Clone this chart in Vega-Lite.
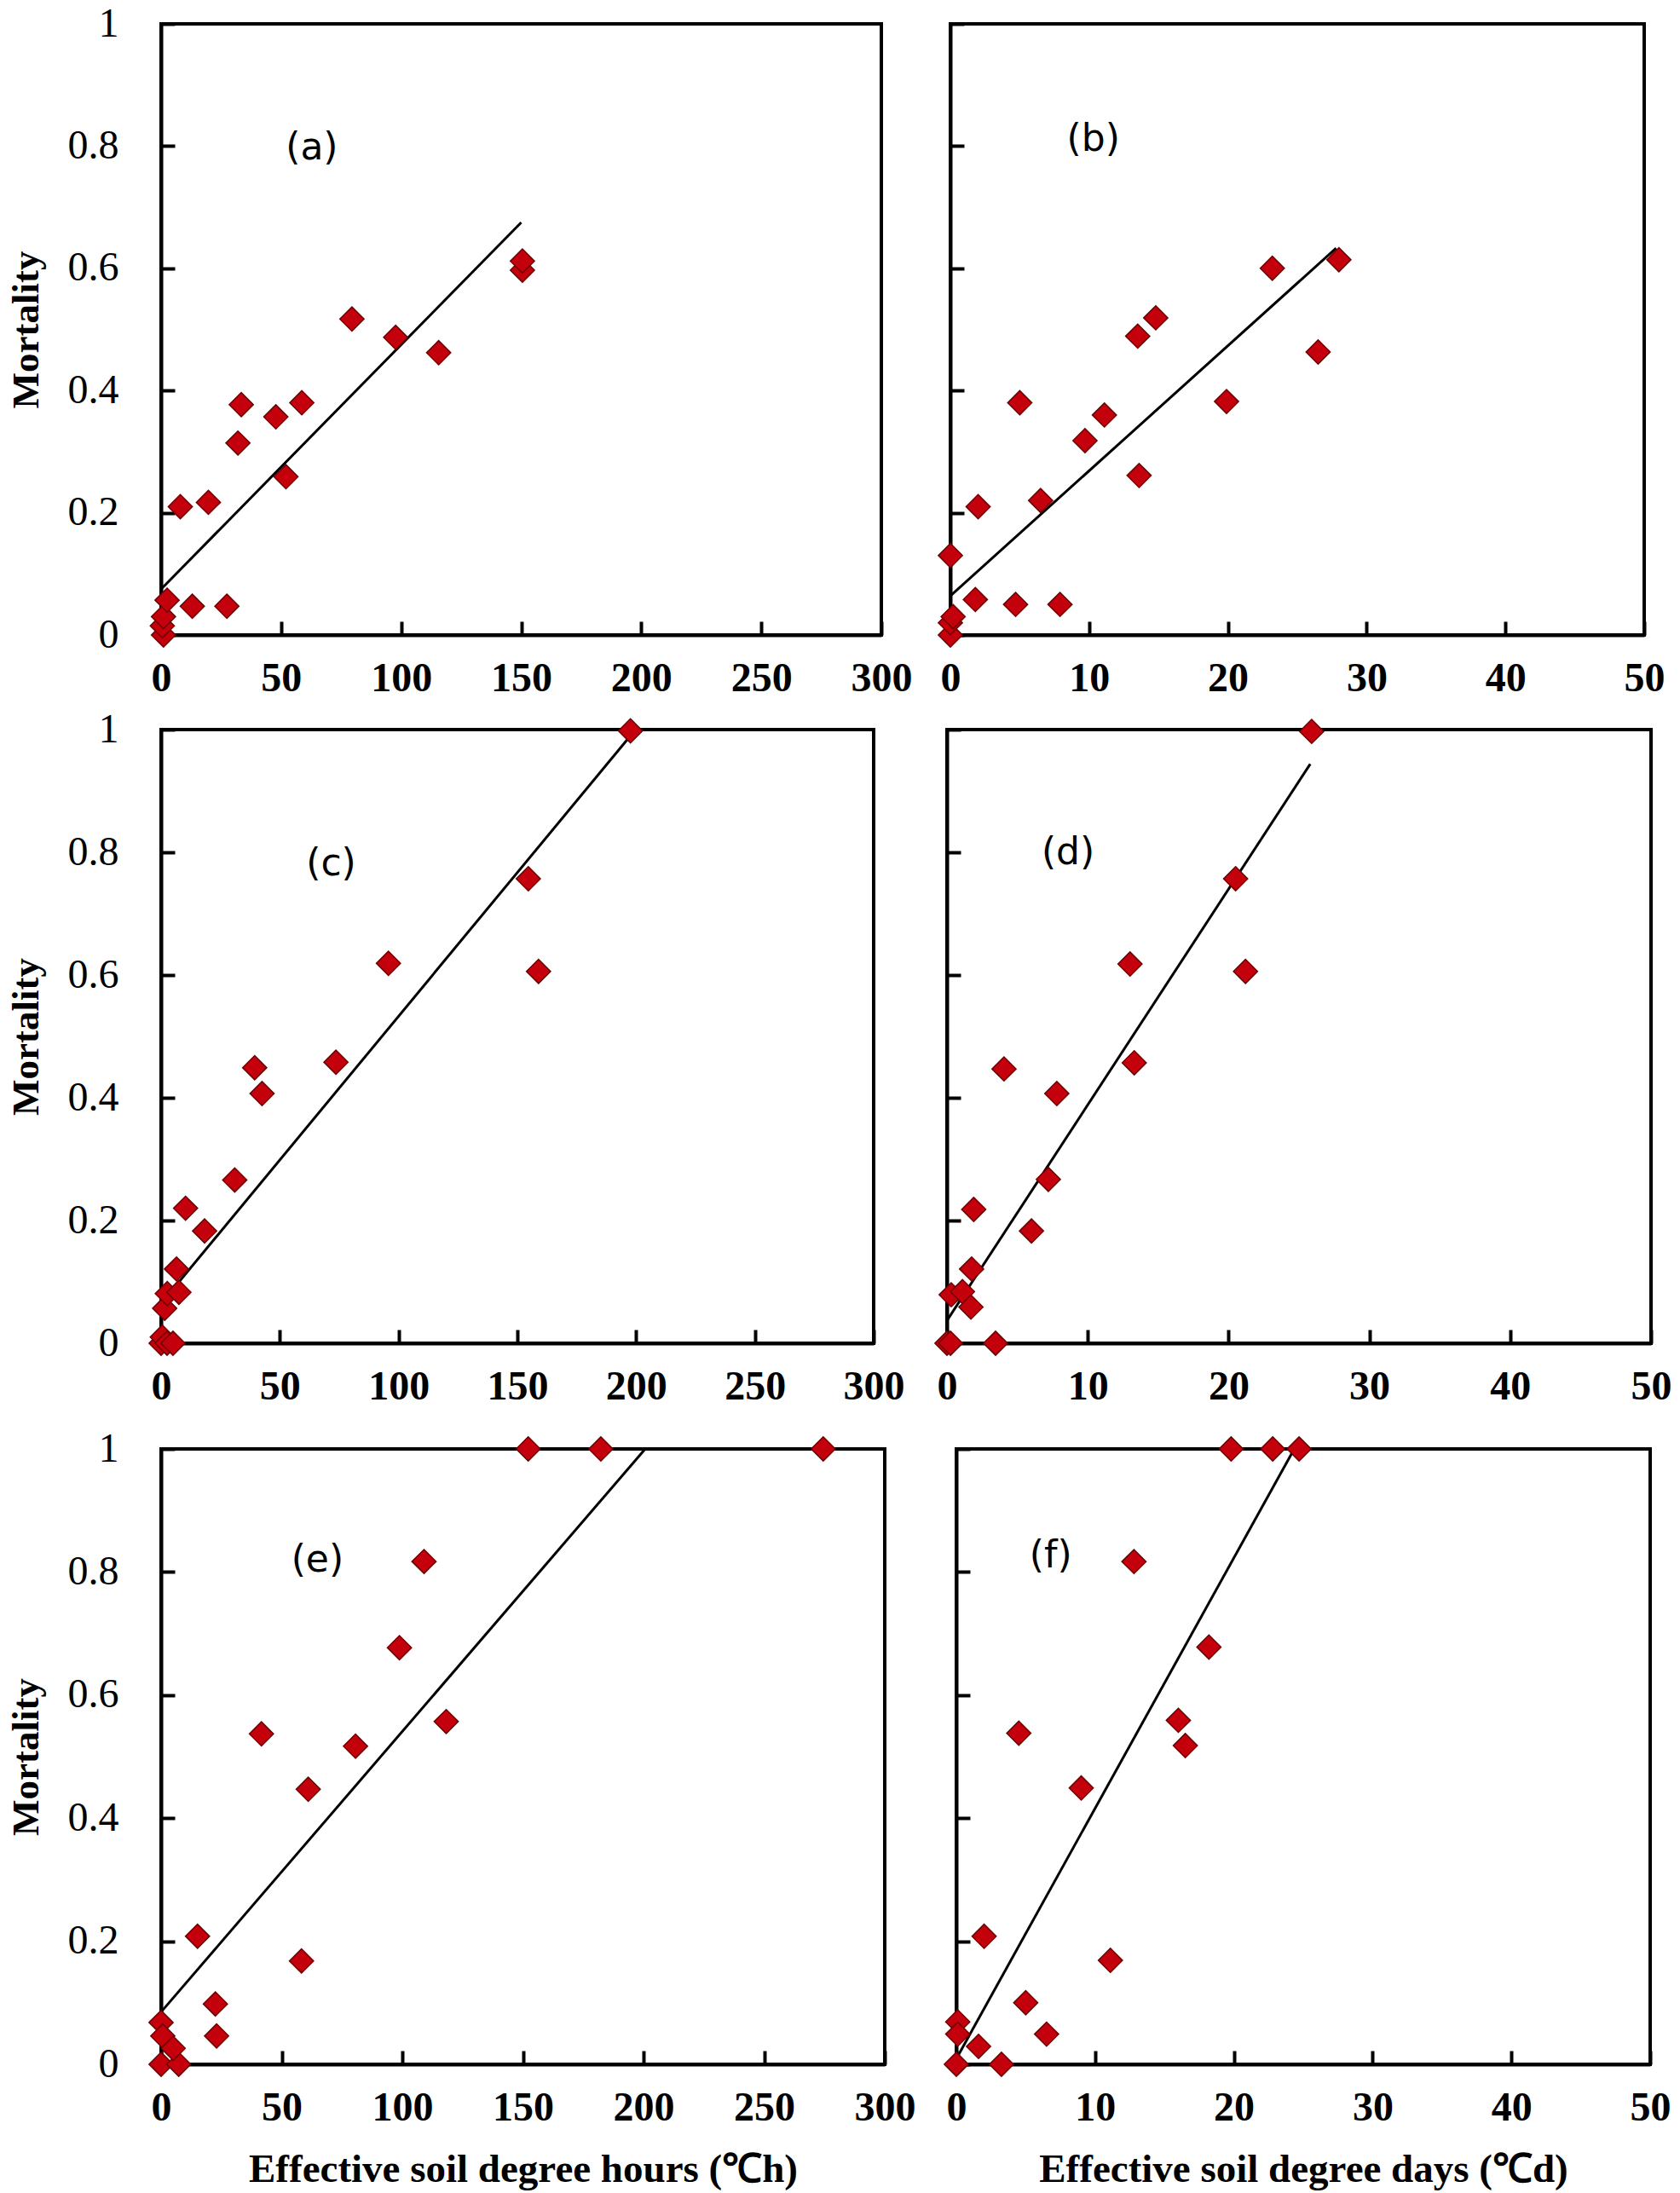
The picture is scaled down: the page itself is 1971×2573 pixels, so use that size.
{
  "$schema": "https://vega.github.io/schema/vega-lite/v6.json",
  "background": "white",
  "padding": {"left": 6, "top": 2, "right": 0, "bottom": 0},
  "data": {
    "values": [
      {"panel": "a", "kind": "pt", "x": 1, "y": 0},
      {"panel": "a", "kind": "pt", "x": 0.5, "y": 0.015},
      {"panel": "a", "kind": "pt", "x": 1, "y": 0.03},
      {"panel": "a", "kind": "pt", "x": 2.5, "y": 0.057},
      {"panel": "a", "kind": "pt", "x": 8, "y": 0.21},
      {"panel": "a", "kind": "pt", "x": 13, "y": 0.047},
      {"panel": "a", "kind": "pt", "x": 19.7, "y": 0.217},
      {"panel": "a", "kind": "pt", "x": 27.4, "y": 0.047},
      {"panel": "a", "kind": "pt", "x": 32, "y": 0.314},
      {"panel": "a", "kind": "pt", "x": 33.4, "y": 0.377},
      {"panel": "a", "kind": "pt", "x": 47.8, "y": 0.357},
      {"panel": "a", "kind": "pt", "x": 52, "y": 0.259},
      {"panel": "a", "kind": "pt", "x": 58.6, "y": 0.38},
      {"panel": "a", "kind": "pt", "x": 79.5, "y": 0.517},
      {"panel": "a", "kind": "pt", "x": 97.7, "y": 0.487},
      {"panel": "a", "kind": "pt", "x": 115.6, "y": 0.462},
      {"panel": "a", "kind": "pt", "x": 150.5, "y": 0.597},
      {"panel": "a", "kind": "pt", "x": 150.5, "y": 0.612},
      {"panel": "a", "kind": "fit", "x": 0, "y": 0.075},
      {"panel": "a", "kind": "fit", "x": 150, "y": 0.675},
      {"panel": "a", "kind": "tag", "x": 62.8, "y": 0.797, "tag": "(a)"},

      {"panel": "b", "kind": "pt", "x": 0, "y": 0},
      {"panel": "b", "kind": "pt", "x": 0, "y": 0.02},
      {"panel": "b", "kind": "pt", "x": 0.2, "y": 0.03},
      {"panel": "b", "kind": "pt", "x": 0, "y": 0.13},
      {"panel": "b", "kind": "pt", "x": 1.8, "y": 0.058},
      {"panel": "b", "kind": "pt", "x": 2, "y": 0.21},
      {"panel": "b", "kind": "pt", "x": 4.7, "y": 0.05},
      {"panel": "b", "kind": "pt", "x": 5, "y": 0.38},
      {"panel": "b", "kind": "pt", "x": 7.9, "y": 0.05},
      {"panel": "b", "kind": "pt", "x": 6.5, "y": 0.22},
      {"panel": "b", "kind": "pt", "x": 9.7, "y": 0.318},
      {"panel": "b", "kind": "pt", "x": 11.1, "y": 0.36},
      {"panel": "b", "kind": "pt", "x": 13.5, "y": 0.489},
      {"panel": "b", "kind": "pt", "x": 13.6, "y": 0.261},
      {"panel": "b", "kind": "pt", "x": 14.8, "y": 0.519},
      {"panel": "b", "kind": "pt", "x": 19.9, "y": 0.382},
      {"panel": "b", "kind": "pt", "x": 23.2, "y": 0.6},
      {"panel": "b", "kind": "pt", "x": 26.5, "y": 0.463},
      {"panel": "b", "kind": "pt", "x": 28, "y": 0.614},
      {"panel": "b", "kind": "fit", "x": 0, "y": 0.064},
      {"panel": "b", "kind": "fit", "x": 27.8, "y": 0.633},
      {"panel": "b", "kind": "tag", "x": 10.3, "y": 0.81, "tag": "(b)"},

      {"panel": "c", "kind": "pt", "x": 0, "y": 0},
      {"panel": "c", "kind": "pt", "x": 0.5, "y": 0.01},
      {"panel": "c", "kind": "pt", "x": 2.5, "y": 0},
      {"panel": "c", "kind": "pt", "x": 5, "y": 0},
      {"panel": "c", "kind": "pt", "x": 1.5, "y": 0.057},
      {"panel": "c", "kind": "pt", "x": 2.6, "y": 0.081},
      {"panel": "c", "kind": "pt", "x": 7.5, "y": 0.083},
      {"panel": "c", "kind": "pt", "x": 6.5, "y": 0.121},
      {"panel": "c", "kind": "pt", "x": 10.3, "y": 0.22},
      {"panel": "c", "kind": "pt", "x": 18.3, "y": 0.183},
      {"panel": "c", "kind": "pt", "x": 31, "y": 0.266},
      {"panel": "c", "kind": "pt", "x": 39.4, "y": 0.449},
      {"panel": "c", "kind": "pt", "x": 42.5, "y": 0.407},
      {"panel": "c", "kind": "pt", "x": 73.6, "y": 0.458},
      {"panel": "c", "kind": "pt", "x": 95.7, "y": 0.619},
      {"panel": "c", "kind": "pt", "x": 154.6, "y": 0.757},
      {"panel": "c", "kind": "pt", "x": 158.9, "y": 0.606},
      {"panel": "c", "kind": "pt", "x": 197.6, "y": 0.998},
      {"panel": "c", "kind": "fit", "x": 0.5, "y": 0.067},
      {"panel": "c", "kind": "fit", "x": 197.6, "y": 0.99},
      {"panel": "c", "kind": "tag", "x": 71.6, "y": 0.781, "tag": "(c)"},

      {"panel": "d", "kind": "pt", "x": 0, "y": 0},
      {"panel": "d", "kind": "pt", "x": 0.25, "y": 0},
      {"panel": "d", "kind": "pt", "x": 3.45, "y": 0},
      {"panel": "d", "kind": "pt", "x": 0.3, "y": 0.079},
      {"panel": "d", "kind": "pt", "x": 1.1, "y": 0.084},
      {"panel": "d", "kind": "pt", "x": 1.7, "y": 0.059},
      {"panel": "d", "kind": "pt", "x": 1.75, "y": 0.121},
      {"panel": "d", "kind": "pt", "x": 1.9, "y": 0.218},
      {"panel": "d", "kind": "pt", "x": 6, "y": 0.183},
      {"panel": "d", "kind": "pt", "x": 7.2, "y": 0.267},
      {"panel": "d", "kind": "pt", "x": 4.05, "y": 0.447},
      {"panel": "d", "kind": "pt", "x": 7.8, "y": 0.407},
      {"panel": "d", "kind": "pt", "x": 13, "y": 0.618},
      {"panel": "d", "kind": "pt", "x": 13.3, "y": 0.457},
      {"panel": "d", "kind": "pt", "x": 20.5, "y": 0.757},
      {"panel": "d", "kind": "pt", "x": 21.2, "y": 0.606},
      {"panel": "d", "kind": "pt", "x": 25.9, "y": 0.997},
      {"panel": "d", "kind": "fit", "x": 0, "y": 0.037},
      {"panel": "d", "kind": "fit", "x": 25.8, "y": 0.944},
      {"panel": "d", "kind": "tag", "x": 8.6, "y": 0.799, "tag": "(d)"},

      {"panel": "e", "kind": "pt", "x": 0, "y": 0},
      {"panel": "e", "kind": "pt", "x": 7.3, "y": 0},
      {"panel": "e", "kind": "pt", "x": 0, "y": 0.068},
      {"panel": "e", "kind": "pt", "x": 0.7, "y": 0.046},
      {"panel": "e", "kind": "pt", "x": 5, "y": 0.026},
      {"panel": "e", "kind": "pt", "x": 15.1, "y": 0.208},
      {"panel": "e", "kind": "pt", "x": 22.5, "y": 0.098},
      {"panel": "e", "kind": "pt", "x": 23, "y": 0.046},
      {"panel": "e", "kind": "pt", "x": 41.6, "y": 0.537},
      {"panel": "e", "kind": "pt", "x": 58.2, "y": 0.168},
      {"panel": "e", "kind": "pt", "x": 61, "y": 0.447},
      {"panel": "e", "kind": "pt", "x": 80.6, "y": 0.517},
      {"panel": "e", "kind": "pt", "x": 98.8, "y": 0.677},
      {"panel": "e", "kind": "pt", "x": 109, "y": 0.817},
      {"panel": "e", "kind": "pt", "x": 118.2, "y": 0.557},
      {"panel": "e", "kind": "pt", "x": 152.2, "y": 1},
      {"panel": "e", "kind": "pt", "x": 182.3, "y": 1},
      {"panel": "e", "kind": "pt", "x": 274.5, "y": 1},
      {"panel": "e", "kind": "fit", "x": 0, "y": 0.085},
      {"panel": "e", "kind": "fit", "x": 200.7, "y": 1},
      {"panel": "e", "kind": "tag", "x": 64.8, "y": 0.818, "tag": "(e)"},

      {"panel": "f", "kind": "pt", "x": 0, "y": 0},
      {"panel": "f", "kind": "pt", "x": 3.25, "y": 0},
      {"panel": "f", "kind": "pt", "x": 0.1, "y": 0.069},
      {"panel": "f", "kind": "pt", "x": 0.1, "y": 0.049},
      {"panel": "f", "kind": "pt", "x": 1.6, "y": 0.029},
      {"panel": "f", "kind": "pt", "x": 2, "y": 0.208},
      {"panel": "f", "kind": "pt", "x": 5, "y": 0.1},
      {"panel": "f", "kind": "pt", "x": 6.5, "y": 0.049},
      {"panel": "f", "kind": "pt", "x": 4.5, "y": 0.538},
      {"panel": "f", "kind": "pt", "x": 9, "y": 0.449},
      {"panel": "f", "kind": "pt", "x": 11.1, "y": 0.169},
      {"panel": "f", "kind": "pt", "x": 12.8, "y": 0.817},
      {"panel": "f", "kind": "pt", "x": 16, "y": 0.559},
      {"panel": "f", "kind": "pt", "x": 16.5, "y": 0.518},
      {"panel": "f", "kind": "pt", "x": 18.2, "y": 0.678},
      {"panel": "f", "kind": "pt", "x": 19.8, "y": 1},
      {"panel": "f", "kind": "pt", "x": 22.8, "y": 1},
      {"panel": "f", "kind": "pt", "x": 24.7, "y": 1},
      {"panel": "f", "kind": "fit", "x": 0, "y": 0.009},
      {"panel": "f", "kind": "fit", "x": 24.35, "y": 1},
      {"panel": "f", "kind": "tag", "x": 6.8, "y": 0.826, "tag": "(f)"}
    ]
  },
  "vconcat": [
    {
      "hconcat": [
        {
          "width": 845, "height": 717,
          "transform": [{"filter": "datum.panel === 'a'"}],
          "encoding": {
            "x": {"field": "x", "type": "quantitative", "scale": {"domain": [0, 300], "nice": false}, "axis": {"values": [0, 50, 100, 150, 200, 250, 300], "title": null}},
            "y": {"field": "y", "type": "quantitative", "scale": {"domain": [0, 1], "nice": false}, "axis": {"values": [0, 0.2, 0.4, 0.6, 0.8, 1], "format": "~g", "title": "Mortality"}}
          },
          "layer": [
            {"transform": [{"filter": "datum.kind === 'fit'"}], "mark": {"type": "line", "color": "black", "strokeWidth": 3}},
            {"transform": [{"filter": "datum.kind === 'pt'"}], "mark": {"type": "point", "shape": "diamond", "filled": true, "size": 800, "fill": "#c4000c", "stroke": "#6e0000", "strokeWidth": 1.5, "opacity": 1}},
            {"transform": [{"filter": "datum.kind === 'tag'"}], "mark": {"type": "text", "font": "DejaVu Sans", "fontSize": 44, "color": "black"}, "encoding": {"text": {"field": "tag"}}}
          ]
        },
        {
          "width": 814, "height": 717,
          "transform": [{"filter": "datum.panel === 'b'"}],
          "encoding": {
            "x": {"field": "x", "type": "quantitative", "scale": {"domain": [0, 50], "nice": false}, "axis": {"values": [0, 10, 20, 30, 40, 50], "title": null}},
            "y": {"field": "y", "type": "quantitative", "scale": {"domain": [0, 1], "nice": false}, "axis": {"values": [0, 0.2, 0.4, 0.6, 0.8, 1], "labels": false, "title": null}}
          },
          "layer": [
            {"transform": [{"filter": "datum.kind === 'fit'"}], "mark": {"type": "line", "color": "black", "strokeWidth": 3}},
            {"transform": [{"filter": "datum.kind === 'pt'"}], "mark": {"type": "point", "shape": "diamond", "filled": true, "size": 800, "fill": "#c4000c", "stroke": "#6e0000", "strokeWidth": 1.5, "opacity": 1}},
            {"transform": [{"filter": "datum.kind === 'tag'"}], "mark": {"type": "text", "font": "DejaVu Sans", "fontSize": 44, "color": "black"}, "encoding": {"text": {"field": "tag"}}}
          ]
        }
      ],
      "spacing": 23
    },
    {
      "vconcat": [
        {
          "hconcat": [
            {
              "width": 836, "height": 720,
              "transform": [{"filter": "datum.panel === 'c'"}],
              "encoding": {
                "x": {"field": "x", "type": "quantitative", "scale": {"domain": [0, 300], "nice": false}, "axis": {"values": [0, 50, 100, 150, 200, 250, 300], "title": null}},
                "y": {"field": "y", "type": "quantitative", "scale": {"domain": [0, 1], "nice": false}, "axis": {"values": [0, 0.2, 0.4, 0.6, 0.8, 1], "format": "~g", "title": "Mortality"}}
              },
              "layer": [
                {"transform": [{"filter": "datum.kind === 'fit'"}], "mark": {"type": "line", "color": "black", "strokeWidth": 3}},
                {"transform": [{"filter": "datum.kind === 'pt'"}], "mark": {"type": "point", "shape": "diamond", "filled": true, "size": 800, "fill": "#c4000c", "stroke": "#6e0000", "strokeWidth": 1.5, "opacity": 1}},
                {"transform": [{"filter": "datum.kind === 'tag'"}], "mark": {"type": "text", "font": "DejaVu Sans", "fontSize": 44, "color": "black"}, "encoding": {"text": {"field": "tag"}}}
              ]
            },
            {
              "width": 826, "height": 720,
              "transform": [{"filter": "datum.panel === 'd'"}],
              "encoding": {
                "x": {"field": "x", "type": "quantitative", "scale": {"domain": [0, 50], "nice": false}, "axis": {"values": [0, 10, 20, 30, 40, 50], "title": null}},
                "y": {"field": "y", "type": "quantitative", "scale": {"domain": [0, 1], "nice": false}, "axis": {"values": [0, 0.2, 0.4, 0.6, 0.8, 1], "labels": false, "title": null}}
              },
              "layer": [
                {"transform": [{"filter": "datum.kind === 'fit'"}], "mark": {"type": "line", "color": "black", "strokeWidth": 3}},
                {"transform": [{"filter": "datum.kind === 'pt'"}], "mark": {"type": "point", "shape": "diamond", "filled": true, "size": 800, "fill": "#c4000c", "stroke": "#6e0000", "strokeWidth": 1.5, "opacity": 1}},
                {"transform": [{"filter": "datum.kind === 'tag'"}], "mark": {"type": "text", "font": "DejaVu Sans", "fontSize": 44, "color": "black"}, "encoding": {"text": {"field": "tag"}}}
              ]
            }
          ],
          "spacing": 28
        },
        {
          "hconcat": [
            {
              "width": 849, "height": 722,
              "transform": [{"filter": "datum.panel === 'e'"}],
              "encoding": {
                "x": {"field": "x", "type": "quantitative", "scale": {"domain": [0, 300], "nice": false}, "axis": {"values": [0, 50, 100, 150, 200, 250, 300], "title": "Effective soil degree hours (℃h)"}},
                "y": {"field": "y", "type": "quantitative", "scale": {"domain": [0, 1], "nice": false}, "axis": {"values": [0, 0.2, 0.4, 0.6, 0.8, 1], "format": "~g", "title": "Mortality"}}
              },
              "layer": [
                {"transform": [{"filter": "datum.kind === 'fit'"}], "mark": {"type": "line", "color": "black", "strokeWidth": 3}},
                {"transform": [{"filter": "datum.kind === 'pt'"}], "mark": {"type": "point", "shape": "diamond", "filled": true, "size": 800, "fill": "#c4000c", "stroke": "#6e0000", "strokeWidth": 1.5, "opacity": 1}},
                {"transform": [{"filter": "datum.kind === 'tag'"}], "mark": {"type": "text", "font": "DejaVu Sans", "fontSize": 44, "color": "black"}, "encoding": {"text": {"field": "tag"}}}
              ]
            },
            {
              "width": 814, "height": 722,
              "transform": [{"filter": "datum.panel === 'f'"}],
              "encoding": {
                "x": {"field": "x", "type": "quantitative", "scale": {"domain": [0, 50], "nice": false}, "axis": {"values": [0, 10, 20, 30, 40, 50], "title": "Effective soil degree days (℃d)"}},
                "y": {"field": "y", "type": "quantitative", "scale": {"domain": [0, 1], "nice": false}, "axis": {"values": [0, 0.2, 0.4, 0.6, 0.8, 1], "labels": false, "title": null}}
              },
              "layer": [
                {"transform": [{"filter": "datum.kind === 'fit'"}], "mark": {"type": "line", "color": "black", "strokeWidth": 3}},
                {"transform": [{"filter": "datum.kind === 'pt'"}], "mark": {"type": "point", "shape": "diamond", "filled": true, "size": 800, "fill": "#c4000c", "stroke": "#6e0000", "strokeWidth": 1.5, "opacity": 1}},
                {"transform": [{"filter": "datum.kind === 'tag'"}], "mark": {"type": "text", "font": "DejaVu Sans", "fontSize": 44, "color": "black"}, "encoding": {"text": {"field": "tag"}}}
              ]
            }
          ],
          "spacing": 26
        }
      ],
      "spacing": 21
    }
  ],
  "spacing": 8,
  "config": {
    "view": {"stroke": "black", "strokeWidth": 4},
    "axis": {
      "grid": false,
      "domainColor": "black",
      "domainWidth": 4,
      "tickColor": "black",
      "tickWidth": 4,
      "tickSize": -16,
      "labelFlush": false,
      "labelFont": "Liberation Serif",
      "labelFontSize": 48,
      "labelColor": "black",
      "labelOverlap": false,
      "titleFont": "Liberation Serif",
      "titleFontWeight": "bold",
      "titleColor": "black"
    },
    "axisX": {"labelFontWeight": "bold", "labelPadding": 43, "titleFontSize": 47, "titlePadding": 25},
    "axisY": {"labelPadding": 66, "titleFontSize": 45, "titlePadding": 26}
  }
}
